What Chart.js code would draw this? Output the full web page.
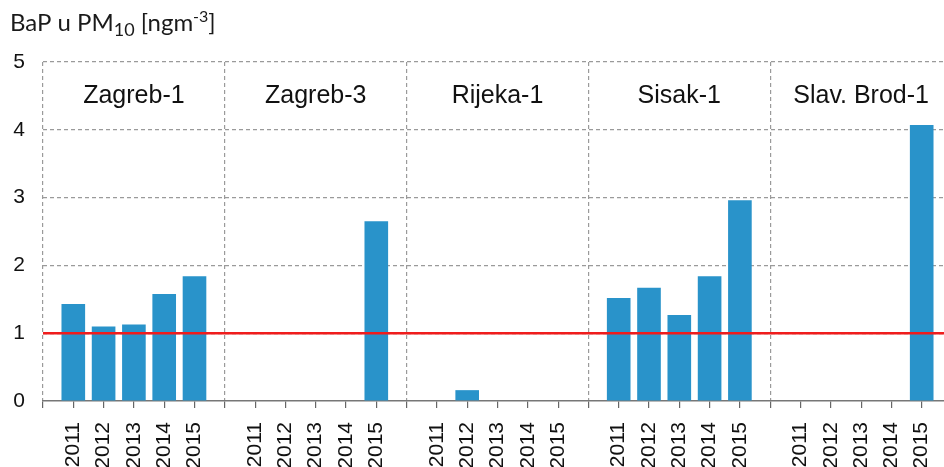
<!DOCTYPE html>
<html>
<head>
<meta charset="utf-8">
<script src="https://cdn.jsdelivr.net/npm/chart.js@4/dist/chart.umd.min.js"></script>
<style>
  html, body { margin: 0; padding: 0; background: #fff; overflow: hidden; }
  #wrap { width: 952px; height: 467px; }
</style>
</head>
<body>
<div id="wrap"><canvas id="c" width="952" height="467"></canvas></div>
<script>
// Stations (panels) and measurement years
const stations = ['Zagreb-1', 'Zagreb-3', 'Rijeka-1', 'Sisak-1', 'Slav. Brod-1'];
const years = ['2011', '2012', '2013', '2014', '2015'];

// Annual mean BaP in PM10 [ng/m3] per station (null = no measurement)
const zagreb1 = [1.43, 1.10, 1.13, 1.58, 1.84];
const zagreb3 = [null, null, null, null, 2.65];
const rijeka1 = [null, 0.16, null, null, null];
const sisak1 = [1.52, 1.67, 1.27, 1.84, 2.96];
const slavBrod1 = [null, null, null, null, 4.07];

// Target value line
const targetValue = 1;

// Y axis ticks
const yTicks = [0, 1, 2, 3, 4, 5];

const stationSeries = [zagreb1, zagreb3, rijeka1, sisak1, slavBrod1];
const slotsPerPanel = years.length + 1;
const totalSlots = stations.length * slotsPerPanel;

// Each panel takes 6 slots on a linear x scale: boundary, 5 years
const barPoints = [];
stationSeries.forEach((series, p) => {
  series.forEach((v, i) => {
    if (v !== null) barPoints.push({ x: p * slotsPerPanel + i + 1, y: v });
  });
});

const AXIS_FONT = '"Liberation Sans", Arial, sans-serif';
const GRID_GREY = '#9a9a9a';

// Title with sub- and superscript
const titlePlugin = {
  id: 'unitTitle',
  afterDraw(chart) {
    const ctx = chart.ctx;
    ctx.save();
    ctx.fillStyle = '#1a1a1a';
    ctx.textBaseline = 'alphabetic';
    ctx.textAlign = 'left';
    let x = 10;
    const base = 31;
    const parts = [
      { t: 'BaP u PM', size: 24, dy: 0 },
      { t: '10', size: 18, dy: 5 },
      { t: ' [ngm', size: 24, dy: 0 },
      { t: '-3', size: 16, dy: -9 },
      { t: ']', size: 24, dy: 0 }
    ];
    parts.forEach(p => {
      ctx.font = p.size + 'px Lato, "Open Sans", sans-serif';
      ctx.fillText(p.t, x, base + p.dy);
      x += ctx.measureText(p.t).width;
    });
    ctx.restore();
  }
};

// Station names centred over each panel
const panelLabels = {
  id: 'panelLabels',
  afterDatasetsDraw(chart) {
    const ctx = chart.ctx;
    const xs = chart.scales.x, ys = chart.scales.y;
    ctx.save();
    ctx.font = '25px ' + AXIS_FONT;
    ctx.fillStyle = '#111';
    ctx.textAlign = 'center';
    ctx.textBaseline = 'middle';
    stations.forEach((name, p) => {
      const cx = xs.getPixelForValue(p * slotsPerPanel + slotsPerPanel / 2);
      ctx.fillText(name, cx, ys.getPixelForValue(4.5));
    });
    ctx.restore();
  }
};

new Chart(document.getElementById('c'), {
  data: {
    datasets: [
      {
        type: 'line',
        data: [{ x: 0, y: targetValue }, { x: totalSlots, y: targetValue }],
        borderColor: '#f01c1c',
        borderWidth: 2.5,
        pointRadius: 0,
        order: 0
      },
      {
        type: 'bar',
        data: barPoints,
        backgroundColor: '#2993ca',
        borderWidth: 0,
        barPercentage: 0.78,
        categoryPercentage: 1,
        order: 1
      }
    ]
  },
  options: {
    responsive: false,
    animation: false,
    devicePixelRatio: 1,
    layout: { padding: { top: 62, left: 0, right: 0, bottom: 0 } },
    plugins: { legend: { display: false }, tooltip: { enabled: false } },
    scales: {
      x: {
        type: 'linear',
        min: 0,
        max: totalSlots,
        offset: false,
        afterBuildTicks(scale) {
          const t = [];
          for (let i = 0; i <= totalSlots; i++) t.push({ value: i });
          scale.ticks = t;
        },
        afterFit(scale) {
          scale.height = 66;
          scale.paddingLeft = 0;
          scale.paddingRight = 0;
        },
        ticks: {
          autoSkip: false,
          minRotation: 90,
          maxRotation: 90,
          padding: 14,
          color: '#111',
          font: { family: AXIS_FONT, size: 21 },
          callback(value) {
            const k = value % slotsPerPanel;
            return k === 0 ? '' : years[k - 1];
          }
        },
        grid: {
          offset: false,
          color: ctx => (ctx.tick && ctx.tick.value % slotsPerPanel === 0) ? GRID_GREY : 'rgba(0,0,0,0)',
          lineWidth: 1.2,
          tickColor: '#666',
          tickLength: 7,
          tickWidth: 1.2
        },
        border: { display: true, color: '#777', width: 1.6, dash: [4, 3] }
      },
      y: {
        type: 'linear',
        min: 0,
        max: 5,
        afterBuildTicks(scale) { scale.ticks = yTicks.map(v => ({ value: v })); },
        afterFit(scale) {
          scale.width = 43;
          scale.paddingTop = 0;
          scale.paddingBottom = 0;
        },
        ticks: {
          padding: 18,
          color: '#111',
          font: { family: AXIS_FONT, size: 21 }
        },
        grid: {
          color: ctx => (ctx.tick && ctx.tick.value === 0) ? 'rgba(0,0,0,0)' : GRID_GREY,
          lineWidth: 1.2,
          drawTicks: false
        },
        border: { display: false, dash: [4, 3] }
      }
    }
  },
  plugins: [titlePlugin, panelLabels]
});
</script>
</body>
</html>
